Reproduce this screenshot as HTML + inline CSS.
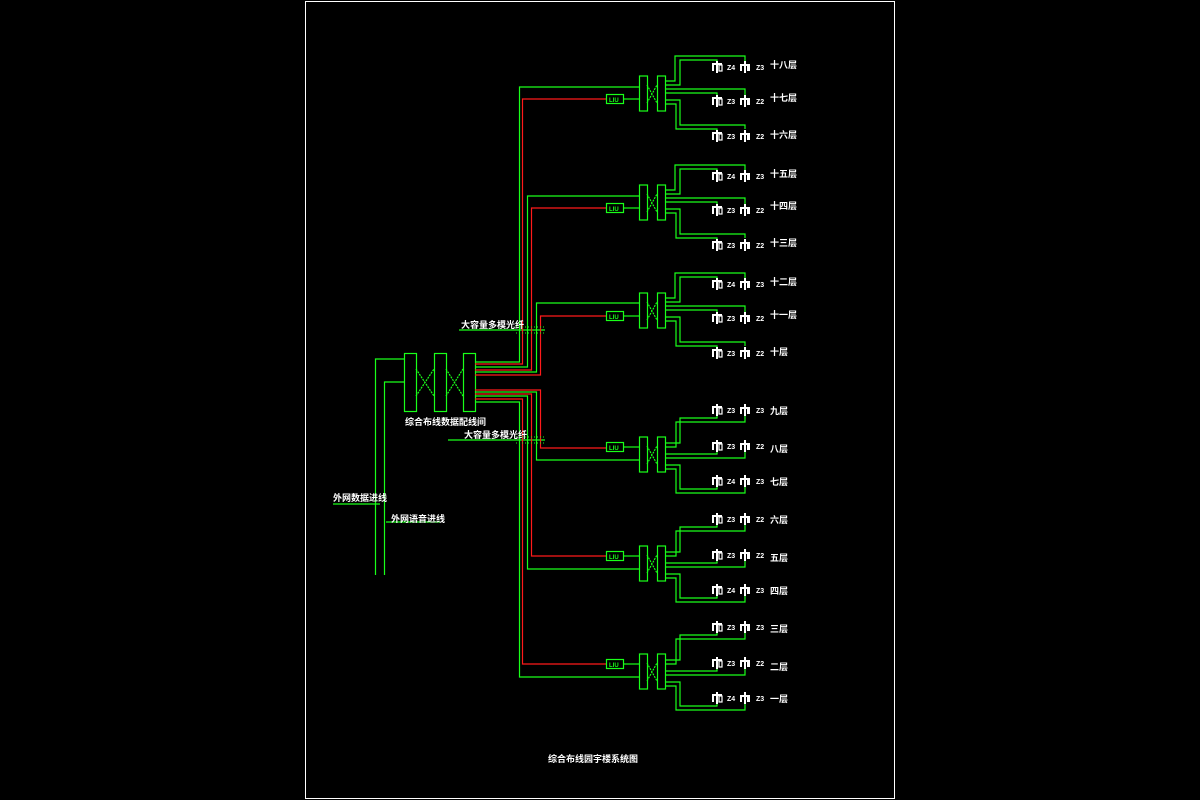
<!DOCTYPE html>
<html><head><meta charset="utf-8"><style>
html,body{margin:0;padding:0;background:#000;width:1200px;height:800px;overflow:hidden}
svg{display:block}
text{font-family:"Liberation Sans","Noto Sans CJK SC",sans-serif;fill:#fff;font-weight:bold}
</style></head><body>
<svg width="1200" height="800" viewBox="0 0 1200 800" xmlns="http://www.w3.org/2000/svg">
<defs>
<g id="sym">
  <rect x="712" y="-3" width="10" height="2" fill="#fff"/>
  <rect x="712" y="-3" width="2" height="8" fill="#fff"/>
  <rect x="716" y="-5" width="2" height="12" fill="#fff"/>
  <rect x="719" y="-1" width="3" height="6" fill="none" stroke="#fff" stroke-width="1.2"/>
  <rect x="740" y="-2" width="10" height="2" fill="#fff"/>
  <rect x="740" y="-2" width="2" height="7" fill="#fff"/>
  <rect x="744" y="-5" width="2" height="12" fill="#fff"/>
  <rect x="747" y="-1" width="3" height="6" fill="#fff"/>
</g>
<g id="core" fill="none" stroke="#19ff19" stroke-width="1.2">
  <rect x="606.5" y="-4.5" width="17" height="9"/>
  <line x1="623" y1="0" x2="639" y2="0"/>
</g>
<g id="up" fill="none" stroke="#19ff19" stroke-width="1.2">
  <rect x="639.5" y="-23" width="8" height="35"/>
  <rect x="657.5" y="-23" width="8" height="35"/>
  <path d="M647 -14 L657 4 M647 4 L657 -14" stroke-dasharray="2 1"/>
  <path d="M666 -18 H675 V-43 H745 V-37 M666 -14 H680 V-39 H717 V-37"/>
  <path d="M666 -10 H745 V-4 M666 -6 H717 V-4"/>
  <path d="M666 1 H680 V26 H745 V30 M666 5 H676 V30 H717 V31"/>
</g>
<g id="dn" fill="none" stroke="#19ff19" stroke-width="1.2">
  <rect x="639.5" y="-10" width="8" height="35"/>
  <rect x="657.5" y="-10" width="8" height="35"/>
  <path d="M647 -1 L657 17 M647 17 L657 -1" stroke-dasharray="2 1"/>
  <path d="M666 -4 H680 V-29 H717 V-31 M666 0 H676 V-25 H745 V-31"/>
  <path d="M666 7 H717 V5 M666 11 H745 V5"/>
  <path d="M666 18 H680 V42 H717 V40 M666 22 H676 V46 H745 V40"/>
</g>
</defs>

<rect x="305.5" y="1.5" width="589" height="797" fill="none" stroke="#fff" stroke-width="1"/>

<!-- main frame -->
<g fill="none" stroke="#19ff19" stroke-width="1.2">
  <rect x="404.5" y="353.5" width="12" height="58"/>
  <rect x="434.5" y="353.5" width="12" height="58"/>
  <rect x="463.5" y="353.5" width="12" height="58"/>
  <path d="M416 369 L434 396 M416 396 L434 369 M446 369 L463 396 M446 396 L463 369" stroke-dasharray="2 1"/>
  <path d="M404 359 H375.5 V575 M404 382 H384.5 V575"/>
  <path d="M333 504 H380 M386 522 H440"/>
  <path d="M459 330 H545 M448 440 H545"/>
  <!-- upper green trunks -->
  <path d="M475 362 H519.5 V87 H639"/>
  <path d="M475 367 H527.5 V196 H639"/>
  <path d="M475 372 H536.5 V303 H639"/>
  <!-- lower green trunks -->
  <path d="M475 402 H519.5 V677 H639"/>
  <path d="M475 396 H527.5 V569 H639"/>
  <path d="M475 392 H536.5 V460 H639"/>
</g>
<g fill="none" stroke="#ff1a1a" stroke-width="1.2">
  <path d="M475 364 H522.5 V99 H606"/>
  <path d="M475 370 H531.5 V208 H606"/>
  <path d="M475 375 H540.5 V316 H606"/>
  <path d="M475 390 H540.5 V448 H606"/>
  <path d="M475 394 H531.5 V556 H606"/>
  <path d="M475 399 H522.5 V664 H606"/>
</g>
<g stroke="#19ff19" stroke-width="1" stroke-dasharray="1 2">
  <path d="M516 327 H545 M516 333 H545 M516 437 H545 M516 443 H545"/>
</g>

<!-- groups -->
<use href="#core" y="99"/><use href="#up" y="99"/>
<use href="#core" y="208"/><use href="#up" y="208"/>
<use href="#core" y="316"/><use href="#up" y="316"/>
<use href="#core" y="447"/><use href="#dn" y="447"/>
<use href="#core" y="556"/><use href="#dn" y="556"/>
<use href="#core" y="664"/><use href="#dn" y="664"/>

<g font-size="6" style="fill:#19ff19">
<text x="609" y="102" style="fill:#19ff19">LIU</text>
<text x="609" y="211" style="fill:#19ff19">LIU</text>
<text x="609" y="319" style="fill:#19ff19">LIU</text>
<text x="609" y="450" style="fill:#19ff19">LIU</text>
<text x="609" y="559" style="fill:#19ff19">LIU</text>
<text x="609" y="667" style="fill:#19ff19">LIU</text>
</g>

<!-- symbols -->
<use href="#sym" y="66"/><use href="#sym" y="100"/><use href="#sym" y="135"/>
<use href="#sym" y="175"/><use href="#sym" y="209"/><use href="#sym" y="244"/>
<use href="#sym" y="283"/><use href="#sym" y="317"/><use href="#sym" y="352"/>
<use href="#sym" y="409"/><use href="#sym" y="445"/><use href="#sym" y="480"/>
<use href="#sym" y="518"/><use href="#sym" y="554"/><use href="#sym" y="589"/>
<use href="#sym" y="626"/><use href="#sym" y="662"/><use href="#sym" y="697"/>

<g font-size="7">
<text x="727" y="70">Z4</text><text x="756" y="70">Z3</text>
<text x="727" y="104">Z3</text><text x="756" y="104">Z2</text>
<text x="727" y="139">Z3</text><text x="756" y="139">Z2</text>
<text x="727" y="179">Z4</text><text x="756" y="179">Z3</text>
<text x="727" y="213">Z3</text><text x="756" y="213">Z2</text>
<text x="727" y="248">Z3</text><text x="756" y="248">Z2</text>
<text x="727" y="287">Z4</text><text x="756" y="287">Z3</text>
<text x="727" y="321">Z3</text><text x="756" y="321">Z2</text>
<text x="727" y="356">Z3</text><text x="756" y="356">Z2</text>
<text x="727" y="413">Z3</text><text x="756" y="413">Z3</text>
<text x="727" y="449">Z3</text><text x="756" y="449">Z2</text>
<text x="727" y="484">Z4</text><text x="756" y="484">Z3</text>
<text x="727" y="522">Z3</text><text x="756" y="522">Z2</text>
<text x="727" y="558">Z3</text><text x="756" y="558">Z2</text>
<text x="727" y="593">Z4</text><text x="756" y="593">Z3</text>
<text x="727" y="630">Z3</text><text x="756" y="630">Z3</text>
<text x="727" y="666">Z3</text><text x="756" y="666">Z2</text>
<text x="727" y="701">Z4</text><text x="756" y="701">Z3</text>
</g>
<g font-size="9">
<text x="770" y="68">十八层</text>
<text x="770" y="101">十七层</text>
<text x="770" y="138">十六层</text>
<text x="770" y="177">十五层</text>
<text x="770" y="209">十四层</text>
<text x="770" y="246">十三层</text>
<text x="770" y="285">十二层</text>
<text x="770" y="318">十一层</text>
<text x="770" y="355">十层</text>
<text x="770" y="414">九层</text>
<text x="770" y="452">八层</text>
<text x="770" y="485">七层</text>
<text x="770" y="523">六层</text>
<text x="770" y="561">五层</text>
<text x="770" y="594">四层</text>
<text x="770" y="632">三层</text>
<text x="770" y="670">二层</text>
<text x="770" y="702">一层</text>
<text x="461" y="328">大容量多模光纤</text>
<text x="464" y="438">大容量多模光纤</text>
<text x="405" y="425">综合布线数据配线间</text>
<text x="333" y="501">外网数据进线</text>
<text x="391" y="522">外网语音进线</text>
<text x="548" y="762">综合布线园宇楼系统图</text>
</g>
</svg>
</body></html>
